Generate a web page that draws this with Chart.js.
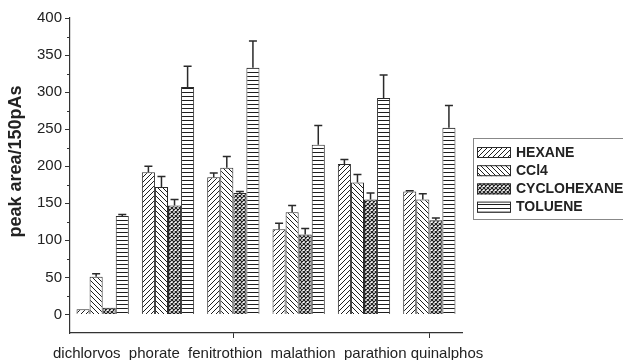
<!DOCTYPE html>
<html>
<head>
<meta charset="utf-8">
<script src="https://cdn.jsdelivr.net/npm/chart.js@4.4.1/dist/chart.umd.min.js"></script>
<style>
  html, body { margin: 0; padding: 0; background: #fff; }
  canvas { display: block; }
</style>
</head>
<body>
<canvas id="chart" width="623" height="360"></canvas>
<script>
// Pesticide peak areas per extraction solvent (mean and upper error)
const categories = ['dichlorvos', 'phorate', 'fenitrothion', 'malathion', 'parathion', 'quinalphos'];
const seriesNames = ['HEXANE', 'CCl4', 'CYCLOHEXANE', 'TOLUENE'];

const hexane = [7, 192, 185, 115, 203, 166];
const hexaneErr = [0, 8, 6, 8, 6, 1];
const ccl4 = [51, 172, 198, 138, 178, 155];
const ccl4Err = [4, 14, 15, 9, 11, 8];
const cyclohexane = [9, 147, 164, 108, 155, 127];
const cyclohexaneErr = [0, 8, 2, 8, 9, 3];
const toluene = [133, 307, 333, 229, 292, 252];
const tolueneErr = [2, 28, 36, 26, 31, 30];

const yTickValues = [0, 50, 100, 150, 200, 250, 300, 350, 400];
const yMinorValues = [25, 75, 125, 175, 225, 275, 325, 375];
const yTitle = 'peak area/150pAs';

const FONT = '"Liberation Sans", Arial, Helvetica, sans-serif';
const INK = '#222';

// Monochrome hatch fills
function makePattern(kind) {
  const size = kind === 'cross' || kind === 'horizontal' ? 4 : 5;
  const c = document.createElement('canvas');
  c.width = size; c.height = size;
  const g = c.getContext('2d');
  g.fillStyle = '#fff';
  g.fillRect(0, 0, size, size);
  g.fillStyle = '#1e1e1e';
  g.strokeStyle = '#1e1e1e';
  g.lineWidth = kind === 'cross' ? 1.2 : 1;
  if (kind === 'horizontal') {
    g.fillRect(0, 0, size, 1);
  } else {
    g.beginPath();
    for (const k of [-size, 0, size]) {
      if (kind === 'forward' || kind === 'cross') {
        g.moveTo(k, size); g.lineTo(k + size, 0);
      }
      if (kind === 'backward' || kind === 'cross') {
        g.moveTo(k, 0); g.lineTo(k + size, size);
      }
    }
    g.stroke();
  }
  return document.getElementById('chart').getContext('2d').createPattern(c, 'repeat');
}

const fills = [makePattern('forward'), makePattern('backward'), makePattern('cross'), makePattern('horizontal')];
const values = [hexane, ccl4, cyclohexane, toluene];
const errors = [hexaneErr, ccl4Err, cyclohexaneErr, tolueneErr];

const datasets = seriesNames.map((name, i) => ({
  label: name,
  data: values[i],
  errors: errors[i],
  backgroundColor: fills[i],
  borderColor: '#2a2a2a',
  borderWidth: 1
}));

// Upward error bars with caps
const errorBars = {
  id: 'errorBars',
  afterDatasetsDraw(chart) {
    const { ctx, scales: { y } } = chart;
    ctx.save();
    ctx.strokeStyle = '#2a2a2a';
    ctx.lineWidth = 1.5;
    chart.data.datasets.forEach((ds, di) => {
      const meta = chart.getDatasetMeta(di);
      meta.data.forEach((bar, i) => {
        const e = ds.errors[i];
        if (!e) return;
        const yTop = y.getPixelForValue(ds.data[i] + e);
        ctx.beginPath();
        ctx.moveTo(bar.x, bar.y);
        ctx.lineTo(bar.x, yTop);
        ctx.moveTo(bar.x - 4, yTop);
        ctx.lineTo(bar.x + 4, yTop);
        ctx.stroke();
      });
    });
    ctx.restore();
  }
};

// Minor ticks, axis title, category labels and the boxed legend
const decorations = {
  id: 'decorations',
  afterDraw(chart) {
    const { ctx, chartArea, scales: { x, y } } = chart;
    ctx.save();

    // minor y ticks
    ctx.strokeStyle = '#333';
    ctx.lineWidth = 1;
    ctx.beginPath();
    yMinorValues.forEach(v => {
      const py = Math.round(y.getPixelForValue(v)) + 0.5;
      ctx.moveTo(chartArea.left - 3, py);
      ctx.lineTo(chartArea.left, py);
    });
    ctx.stroke();

    // y axis title
    ctx.fillStyle = INK;
    ctx.font = 'bold 18px ' + FONT;
    ctx.textAlign = 'center';
    ctx.textBaseline = 'middle';
    ctx.translate(16, (chartArea.top + chartArea.bottom) / 2 - 14);
    ctx.rotate(-Math.PI / 2);
    ctx.fillText(yTitle, 0, 0);
    ctx.setTransform(1, 0, 0, 1, 0, 0);

    // category labels written as one spaced row under the axis
    ctx.font = '15px ' + FONT;
    ctx.textAlign = 'left';
    ctx.textBaseline = 'alphabetic';
    const space = ctx.measureText(' ').width;
    const gaps = [2, 2, 2, 2, 1];
    let cx = x.left - 17;
    categories.forEach((name, i) => {
      ctx.fillText(name, cx, chartArea.bottom + 25);
      cx += ctx.measureText(name).width + (i < gaps.length ? gaps[i] * space : 0);
    });

    // legend
    const lx = chartArea.right + 11;
    const ly = 138;
    ctx.strokeStyle = '#888';
    ctx.lineWidth = 1;
    ctx.strokeRect(lx + 0.5, ly + 0.5, 160, 81);
    ctx.font = 'bold 14px ' + FONT;
    ctx.textBaseline = 'middle';
    chart.data.datasets.forEach((ds, i) => {
      const cy = ly + 14 + i * 18.2;
      ctx.fillStyle = ds.backgroundColor;
      ctx.fillRect(lx + 4, cy - 5, 34, 11);
      ctx.strokeStyle = '#2a2a2a';
      ctx.strokeRect(lx + 4.5, cy - 4.5, 33, 10);
      ctx.fillStyle = INK;
      ctx.fillText(ds.label, lx + 43, cy + 1);
    });
    ctx.restore();
  }
};

new Chart(document.getElementById('chart'), {
  type: 'bar',
  data: { labels: categories, datasets },
  options: {
    responsive: false,
    animation: false,
    layout: { padding: { top: 18, right: 161, left: 0, bottom: 0 } },
    datasets: { bar: { categoryPercentage: 0.8, barPercentage: 1 } },
    plugins: { legend: { display: false }, tooltip: { enabled: false } },
    scales: {
      x: {
        grid: {
          display: true,
          drawOnChartArea: false,
          offset: false,
          tickLength: 5,
          tickWidth: 1,
          tickColor: c => (c.index === 2 || c.index === 5) ? '#333' : 'rgba(0,0,0,0)'
        },
        border: { color: '#333', width: 1.2 },
        ticks: { display: false },
        afterFit: s => { s.height = 27; }
      },
      y: {
        min: -25,
        max: 400,
        afterBuildTicks: s => { s.ticks = yTickValues.map(v => ({ value: v })); },
        grid: { drawOnChartArea: false, tickLength: 5, tickColor: '#333' },
        border: { color: '#333', width: 1.2 },
        ticks: { color: INK, padding: 3, font: { family: FONT, size: 15 } },
        afterFit: s => { s.width = 70; }
      }
    }
  },
  plugins: [errorBars, decorations]
});
</script>
</body>
</html>
